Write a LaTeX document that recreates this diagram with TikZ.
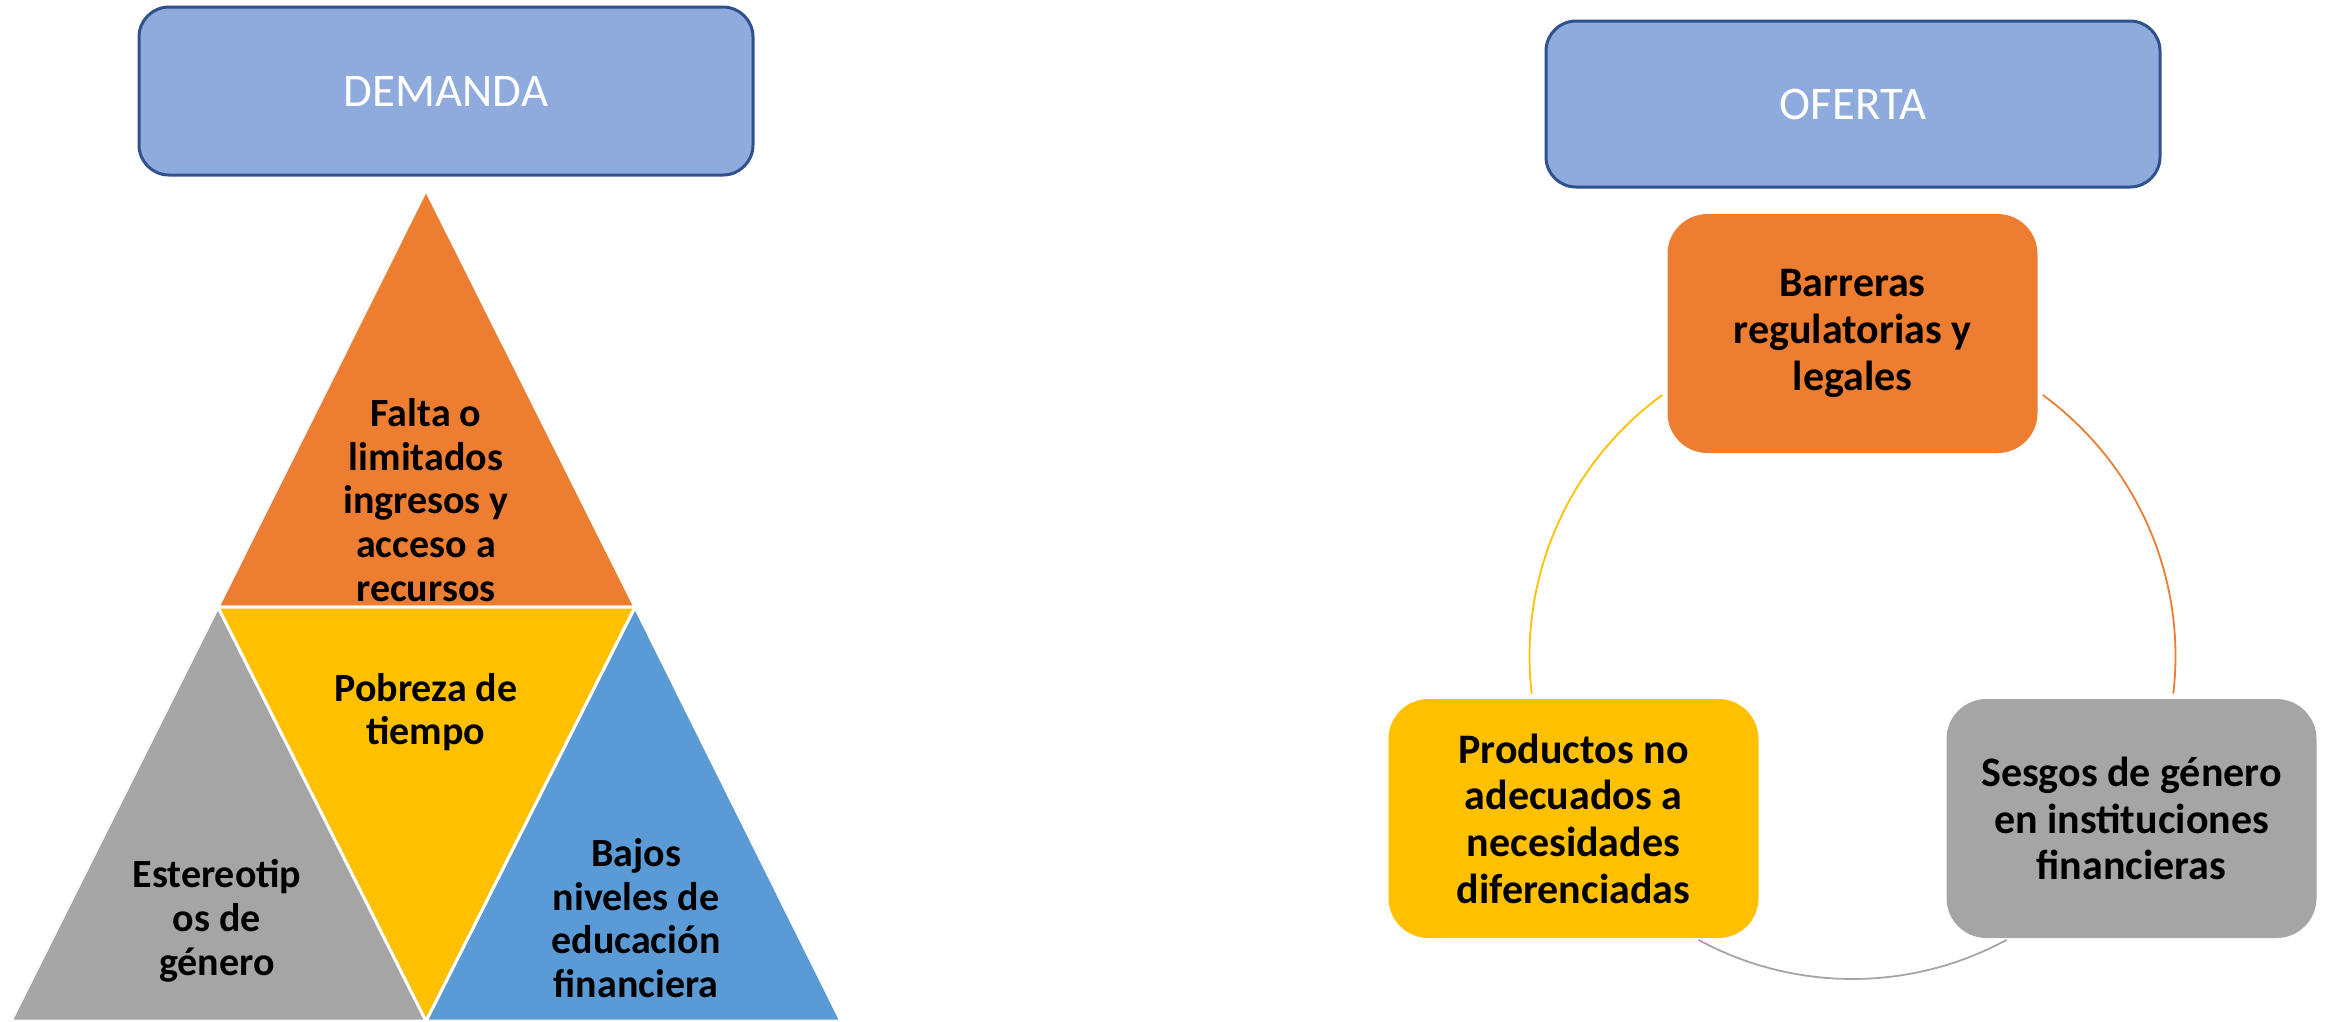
\documentclass[tikz,border=0pt]{standalone}
\usepackage{fontspec}
\setmainfont{Carlito}
\definecolor{hdrfill}{HTML}{8FAADC}
\definecolor{hdrline}{HTML}{2F528F}
\definecolor{cOrange}{HTML}{ED7D31}
\definecolor{cYellow}{HTML}{FFC000}
\definecolor{cGray}{HTML}{A5A5A5}
\definecolor{cBlue}{HTML}{5B9BD5}
\begin{document}
\begin{tikzpicture}[x=0.25pt,y=-0.25pt,
  hdr/.style={draw=hdrline, line width=0.75pt, fill=hdrfill, rounded corners=7.5pt,
    minimum width=153.5pt, text=white, font=\fontsize{11.7}{14}\selectfont},
  item/.style={rounded corners=10pt, minimum width=92.5pt, minimum height=59.75pt,
    align=center, font=\bfseries\fontsize{10.5}{11.65}\selectfont},
  tri/.style={draw=white, line width=0.75pt, line join=round},
  trilabel/.style={align=center, inner sep=0pt, font=\bfseries\fontsize{10}{10.94}\selectfont},
  ring/.style={line width=0.45pt}]
\useasboundingbox (0,0) rectangle (2326,1021);
% pyramid of triangles
\coordinate (A) at (426,190);
\coordinate (ML) at (218,607);
\coordinate (MR) at (635,607);
\coordinate (BL) at (11,1021);
\coordinate (BM) at (426,1021);
\coordinate (BR) at (841,1021);
\filldraw[tri, fill=cOrange] (A) -- (MR) -- (ML) -- cycle;
\filldraw[tri, fill=cGray] (ML) -- (BM) -- (BL) -- cycle;
\filldraw[tri, fill=cBlue] (MR) -- (BR) -- (BM) -- cycle;
\filldraw[tri, fill=cYellow] (ML) -- (MR) -- (BM) -- cycle;
\node[trilabel] (t1) at (426,500) {Falta o\\limitados\\ingresos y\\acceso a\\recursos};
\node[trilabel] (t2) at (426,712) {Pobreza de\\tiempo};
\node[trilabel] (t3) at (217,921) {Estereotip\\os de\\género};
\node[trilabel] (t4) at (636,918) {Bajos\\niveles de\\educación\\financiera};
% headers
\node[hdr, minimum height=42pt] (dem) at (446,91) {DEMANDA};
\node[hdr, minimum height=41.5pt] (ofe) at (1853,104) {OFERTA};
% cycle
\coordinate (cc) at (1852.5,656);
\draw[ring, cYellow] (cc) ++(126.1:80.75pt) arc[start angle=126.1, end angle=186.7, radius=80.75pt];
\draw[ring, cOrange] (cc) ++(53.9:80.75pt) arc[start angle=53.9, end angle=-6.7, radius=80.75pt];
\draw[ring, cGray] (cc) ++(241.5:80.75pt) arc[start angle=241.5, end angle=298.5, radius=80.75pt];
\node[item, fill=cOrange] (bar) at (1852.5,333.5) {Barreras\\regulatorias y\\legales};
\node[item, fill=cYellow] (pro) at (1573.5,818.5) {Productos no\\adecuados a\\necesidades\\diferenciadas};
\node[item, fill=cGray] (ses) at (2131.5,818.5) {Sesgos de género\\en instituciones\\financieras};
\end{tikzpicture}
\end{document}
